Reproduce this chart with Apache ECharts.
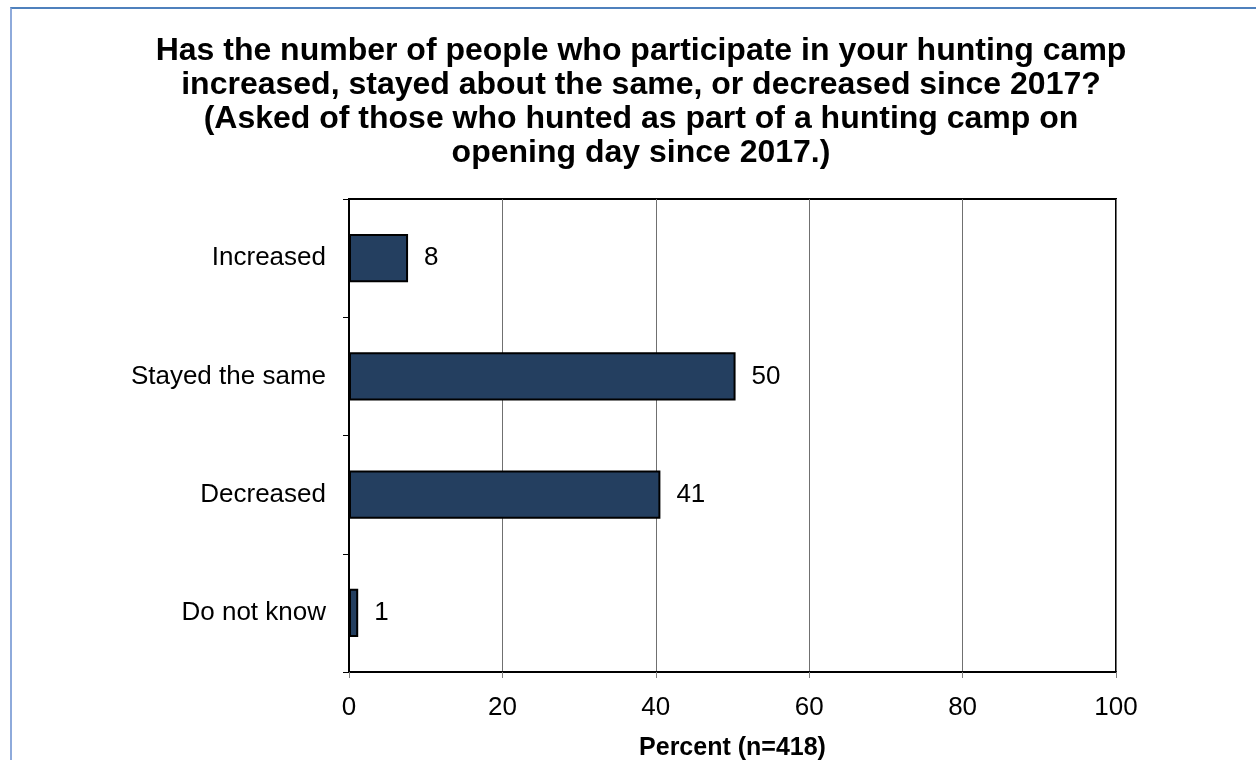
<!DOCTYPE html>
<html>
<head>
<meta charset="utf-8">
<script src="https://cdn.jsdelivr.net/npm/echarts@6/dist/echarts.min.js"></script>
<style>
html,body{margin:0;padding:0;background:#fff;}
#frame{position:absolute;left:10px;top:7px;width:1300px;height:800px;border-left:2px solid #8eaadb;border-top:2px solid #4f81bd;box-sizing:border-box;}
#chart{position:absolute;left:0;top:0;width:1256px;height:760px;}
</style>
</head>
<body>
<div id="frame"></div>
<div id="chart"></div>
<script>
const categories = ["Increased", "Stayed the same", "Decreased", "Do not know"];
const percentValues = [7.7, 50.4, 40.6, 1.2];
const xTicks = [0, 20, 40, 60, 80, 100];
const titleText = "Has the number of people who participate in your hunting camp\nincreased, stayed about the same, or decreased since 2017?\n(Asked of those who hunted as part of a hunting camp on\nopening day since 2017.)";
const axisName = "Percent (n=418)";

const chart = echarts.init(document.getElementById('chart'), null, {renderer: 'canvas'});
const font = "'Liberation Sans', Arial, sans-serif";
chart.setOption({
  backgroundColor: 'transparent',
  animation: false,
  title: {
    text: titleText,
    left: 636,
    textAlign: 'center',
    top: 29,
    textStyle: {fontFamily: font, fontWeight: 'bold', fontSize: 32, lineHeight: 34, color: '#000'}
  },
  grid: {left: 349, right: 140, top: 199, bottom: 88, show: true, borderColor: '#000', borderWidth: 2, containLabel: false, outerBoundsMode: 'none'},
  xAxis: {
    type: 'value', min: xTicks[0], max: xTicks[xTicks.length - 1], interval: 20,
    name: axisName, nameLocation: 'middle', nameGap: 64,
    nameTextStyle: {fontFamily: font, fontWeight: 'bold', fontSize: 25, color: '#000'},
    axisLine: {show: true, lineStyle: {color: '#000', width: 2}},
    axisTick: {show: true, length: 6, lineStyle: {color: '#808080', width: 1}},
    axisLabel: {fontFamily: font, fontSize: 26, color: '#000', margin: 23},
    splitLine: {show: true, lineStyle: {color: '#707070', width: 1}}
  },
  yAxis: {
    type: 'category', data: categories, inverse: true,
    axisLine: {show: true, lineStyle: {color: '#000', width: 2}},
    axisTick: {show: true, length: 6, inside: false, lineStyle: {color: '#000', width: 1}},
    axisLabel: {fontFamily: font, fontSize: 26, color: '#000', margin: 23},
    splitLine: {show: false}
  },
  series: [{
    type: 'bar',
    data: percentValues,
    barWidth: '41%',
    itemStyle: {color: '#243f60', borderColor: '#000', borderWidth: 2},
    label: {
      show: true, position: 'right', distance: 16,
      fontFamily: font, fontSize: 26, color: '#000',
      formatter: p => Math.round(p.value)
    }
  }]
});
</script>
</body>
</html>
